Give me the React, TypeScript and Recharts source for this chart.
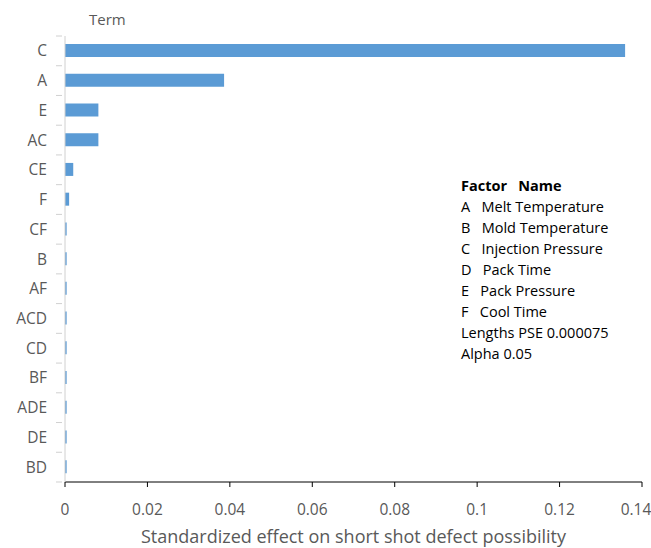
import * as React from "react";
import { Bar, BarChart, XAxis, YAxis } from "recharts";

// terms, top to bottom, and their standardized effects
const terms = ["C", "A", "E", "AC", "CE", "F", "CF", "B", "AF", "ACD", "CD", "BF", "ADE", "DE", "BD"];
const effects = [0.1359, 0.0386, 0.0081, 0.0081, 0.0020, 0.0010, 0.0004, 0.0004, 0.0004, 0.0004, 0.0004, 0.0004, 0.0004, 0.0004, 0.0004];
const xTicks = [0, 0.02, 0.04, 0.06, 0.08, 0.1, 0.12, 0.14];

const factorCodes = ["A", "B", "C", "D", "E", "F"];
const factorNames = ["Melt Temperature", "Mold Temperature", "Injection Pressure", "Pack Time", "Pack Pressure", "Cool Time"];

const FONT = "'Open Sans', sans-serif";
const GRAY = "#595959";

const data = terms.map((term, i) => ({ term, effect: effects[i] }));

// category label plus a short tick at the band boundary (Excel style)
function TermTick(props: any) {
  const { x, y, payload, index } = props;
  const band = 29.73;
  const ax = x + 5;
  return (
    <g>
      <line x1={ax - 6} x2={ax} y1={y - band / 2} y2={y - band / 2} stroke="#d0d0d0" />
      {index === terms.length - 1 && (
        <line x1={ax - 6} x2={ax} y1={y + band / 2} y2={y + band / 2} stroke="#d0d0d0" />
      )}
      <text x={x - 10} y={y} dy={5.5} textAnchor="end" fill={GRAY} fontSize={15.5} fontFamily={FONT}>
        {payload.value}
      </text>
    </g>
  );
}

// value tick; the last label is nudged so it stays inside the picture
function ValueTick(props: any) {
  const { x, y, payload, index } = props;
  const last = index === xTicks.length - 1;
  return (
    <text
      x={last ? x - 6 : x}
      y={y}
      dy={19}
      textAnchor="middle"
      fill={GRAY}
      fontSize={15.5}
      fontFamily={FONT}
    >
      {String(payload.value)}
    </text>
  );
}

export default function App() {
  return (
    <div style={{ position: "absolute", left: 0, top: 0, width: 651, height: 548, background: "#fff" }}>
      <BarChart
        width={651}
        height={548}
        data={data}
        layout="vertical"
        margin={{ top: 36, right: 9, left: 0, bottom: 0 }}
      >
        <XAxis
          type="number"
          domain={[0, 0.14]}
          ticks={xTicks}
          interval={0}
          height={66}
          stroke="#000"
          tickSize={5}
          tick={<ValueTick />}
          tickMargin={9}
          label={{
            value: "Standardized effect on short shot defect possibility",
            position: "insideBottom",
            offset: 5,
            fill: GRAY,
            fontSize: 18,
            fontFamily: FONT,
          }}
        />
        <YAxis
          type="category"
          dataKey="term"
          width={65}
          stroke="#d0d0d0"
          tickLine={false}
          tick={<TermTick />}
          interval={0}
        />
        <Bar dataKey="effect" fill="#5B9BD5" barSize={13} isAnimationActive={false} />
      </BarChart>
      <div
        style={{
          position: "absolute",
          left: 89,
          top: 9,
          fontFamily: FONT,
          fontSize: 15,
          lineHeight: "21px",
          color: GRAY,
        }}
      >
        Term
      </div>
      <div
        style={{
          position: "absolute",
          left: 461,
          top: 175,
          fontFamily: FONT,
          fontSize: 14.5,
          lineHeight: "21px",
          color: "#000",
          whiteSpace: "pre",
        }}
      >
        <div style={{ fontWeight: 700 }}>Factor   Name</div>
        {factorCodes.map((c, i) => (
          <div key={c}>{c + "   " + factorNames[i]}</div>
        ))}
        <div>Lengths PSE 0.000075</div>
        <div>Alpha 0.05</div>
      </div>
    </div>
  );
}
